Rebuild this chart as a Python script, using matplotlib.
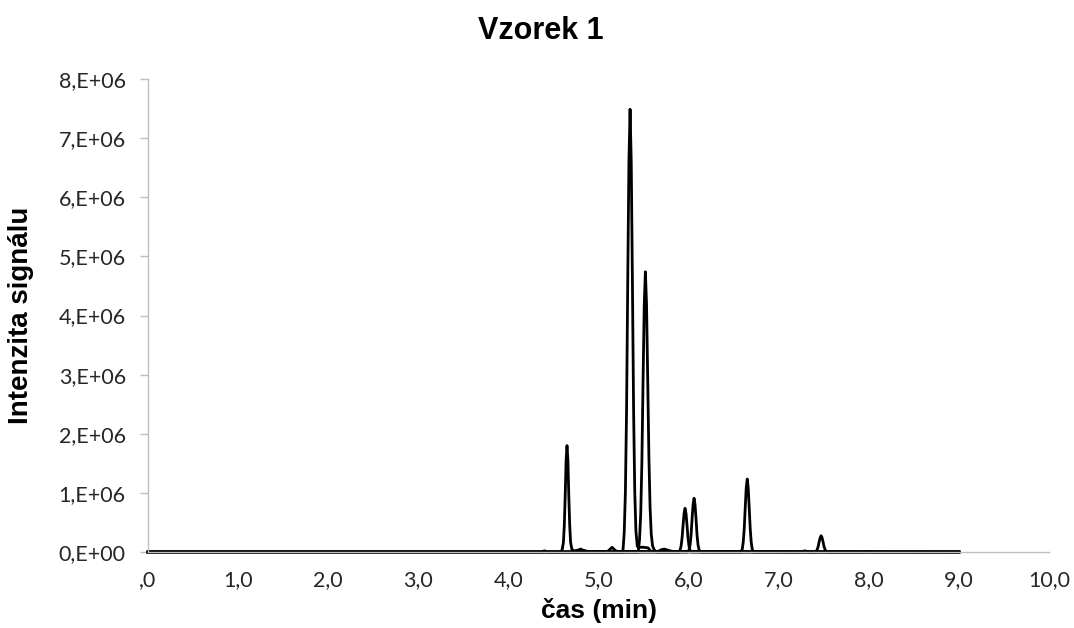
import matplotlib
matplotlib.use("Agg")
import matplotlib.pyplot as plt

# retention time (min) / intensity (millions of counts)
t_a = [0.0, 4.36, 4.40, 4.44, 4.57, 4.595, 4.61, 4.62, 4.63, 4.64, 4.65, 4.66, 4.67,
       4.68, 4.69, 4.705, 4.73, 4.77, 4.80, 4.83, 4.88, 5.10, 5.13, 5.15, 5.17, 5.20,
       5.66, 5.70, 5.73, 5.77, 5.82, 7.24, 7.29, 7.34, 7.96, 8.00, 8.04, 9.0]
i_a = [0.0, 0.0, 0.02, 0.0, 0.0, 0.03, 0.16, 0.45, 0.95, 1.55, 1.80, 1.55, 0.95,
       0.45, 0.16, 0.04, 0.02, 0.03, 0.05, 0.03, 0.01, 0.01, 0.05, 0.08, 0.05, 0.01,
       0.01, 0.04, 0.05, 0.03, 0.01, 0.0, 0.02, 0.0, 0.0, 0.01, 0.0, 0.0]

t_b = [0.0, 5.27, 5.285, 5.298, 5.311, 5.324, 5.337, 5.35, 5.363, 5.376, 5.389,
       5.402, 5.415, 5.43, 5.44, 5.50, 5.55, 5.58, 9.0]
i_b = [0.0, 0.0, 0.33, 1.01, 2.4, 4.57, 6.59, 7.49, 6.59, 4.57, 2.4,
       1.01, 0.35, 0.1, 0.08, 0.08, 0.07, 0.01, 0.0]

t_c = [0.0, 5.44, 5.455, 5.468, 5.481, 5.494, 5.507, 5.52, 5.533, 5.546, 5.559,
       5.572, 5.585, 5.60, 5.62, 5.65, 9.0]
i_c = [0.0, 0.0, 0.21, 0.64, 1.52, 2.89, 4.17, 4.74, 4.17, 2.89, 1.6,
       0.75, 0.3, 0.1, 0.03, 0.0, 0.0]

t_d = [0.0, 5.89, 5.905, 5.916, 5.927, 5.938, 5.949, 5.96, 5.971, 5.982, 5.993,
       6.004, 6.015, 6.03,
       7.40, 7.415, 7.426, 7.437, 7.448, 7.459, 7.47, 7.481, 7.492, 7.503,
       7.514, 7.525, 7.54, 9.0]
i_d = [0.0, 0.0, 0.03, 0.10, 0.24, 0.45, 0.65, 0.74, 0.65, 0.45, 0.24,
       0.10, 0.03, 0.0,
       0.0, 0.01, 0.04, 0.09, 0.17, 0.24, 0.276, 0.24, 0.17, 0.09,
       0.04, 0.01, 0.0, 0.0]

t_e = [0.0, 5.99, 6.005, 6.016, 6.027, 6.038, 6.049, 6.06, 6.071, 6.082, 6.093,
       6.104, 6.115, 6.13,
       6.58, 6.595, 6.606, 6.617, 6.628, 6.639, 6.65, 6.661, 6.672, 6.683,
       6.694, 6.705, 6.72, 9.0]
i_e = [0.0, 0.0, 0.04, 0.12, 0.29, 0.56, 0.80, 0.91, 0.80, 0.56, 0.29,
       0.12, 0.04, 0.0,
       0.0, 0.05, 0.17, 0.40, 0.75, 1.09, 1.235, 1.09, 0.75, 0.40,
       0.17, 0.05, 0.0, 0.0]

traces = [(t_a, i_a), (t_b, i_b), (t_c, i_c), (t_d, i_d), (t_e, i_e)]

x_ticks = [0, 1, 2, 3, 4, 5, 6, 7, 8, 9, 10]
x_labels = [",0", "1,0", "2,0", "3,0", "4,0", "5,0", "6,0", "7,0", "8,0", "9,0", "10,0"]
y_ticks = [0, 1e6, 2e6, 3e6, 4e6, 5e6, 6e6, 7e6, 8e6]
y_labels = ["0,E+00", "1,E+06", "2,E+06", "3,E+06", "4,E+06",
            "5,E+06", "6,E+06", "7,E+06", "8,E+06"]

fig = plt.figure(figsize=(10.74, 6.28), dpi=100)
ax = fig.add_axes([0.1378, 0.121, 0.839, 0.753])

for t, i in traces:
    ax.plot(t, [v * 1e6 for v in i], color="black", lw=2.0,
            solid_joinstyle="round", clip_on=False)

ax.set_xlim(0, 10)
ax.set_ylim(0, 8e6)
ax.set_xticks(x_ticks)
ax.set_xticklabels(x_labels)
ax.set_yticks(y_ticks)
ax.set_yticklabels(y_labels)

for side in ["top", "right"]:
    ax.spines[side].set_visible(False)
for side in ["left", "bottom"]:
    ax.spines[side].set_color("#BFBFBF")
    ax.spines[side].set_linewidth(1.0)

ax.tick_params(axis="y", length=6, width=1, color="#BFBFBF", pad=10,
               labelsize=15.5, labelcolor="#262626")
ax.tick_params(axis="x", length=0, pad=13, labelsize=15.5, labelcolor="#262626")
for lab in ax.get_xticklabels() + ax.get_yticklabels():
    lab.set_fontfamily("Lato")

fig.text(0.504, 0.95, "Vzorek 1", fontsize=22, fontweight="bold",
         fontfamily="Liberation Sans", ha="center", va="center")
ax.set_xlabel("čas (min)", fontsize=19, fontweight="bold",
              fontfamily="Liberation Sans")
ax.xaxis.set_label_coords(0.5, -0.097)
ax.set_ylabel("Intenzita signálu", fontsize=20, fontweight="bold",
              fontfamily="Liberation Sans")
ax.yaxis.set_label_coords(-0.127, 0.5)

fig.savefig("out.png", dpi=100)
